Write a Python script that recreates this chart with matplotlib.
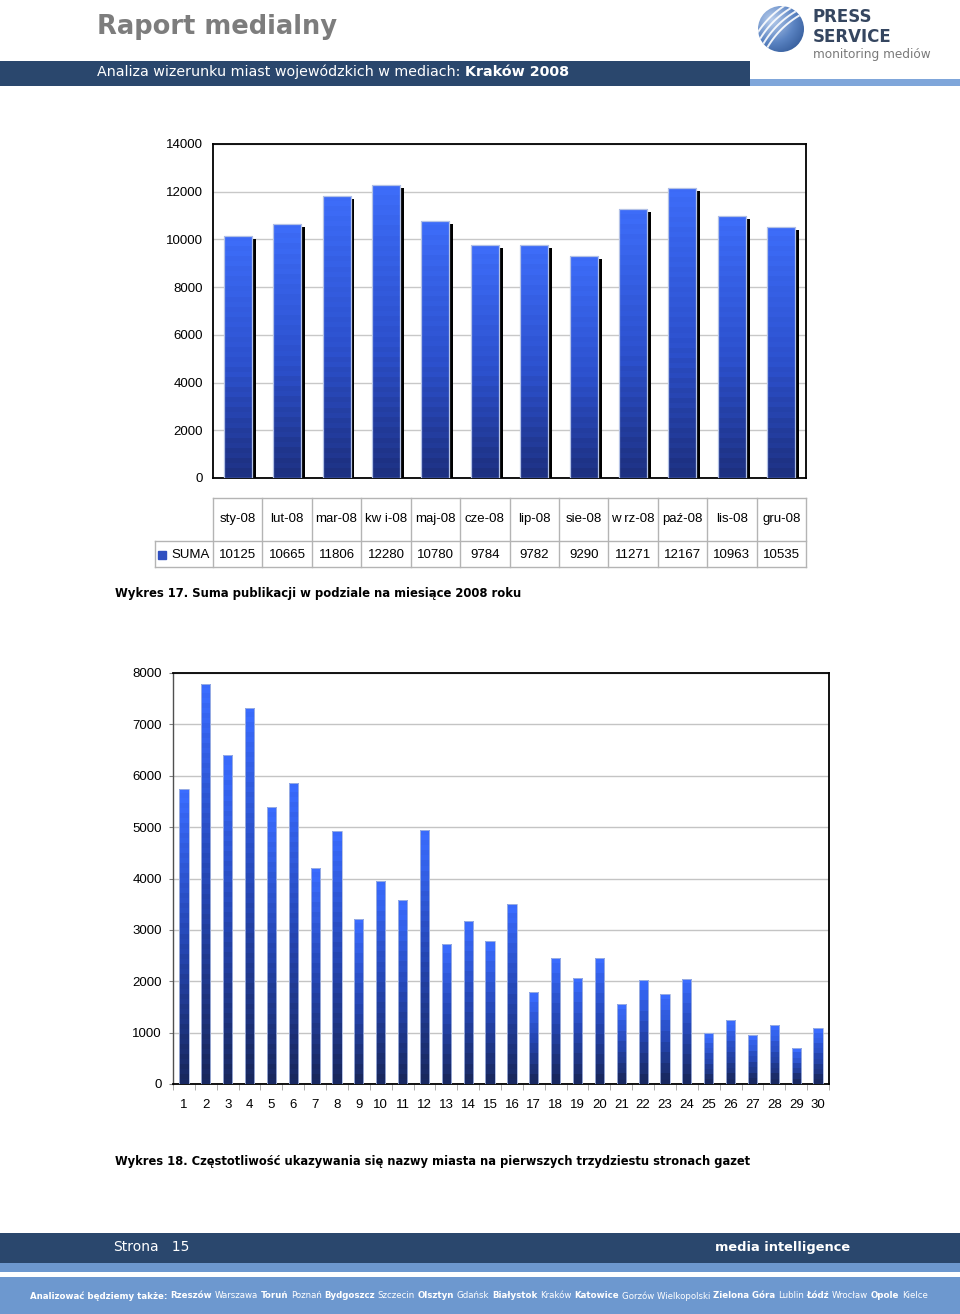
import numpy as np
import matplotlib
matplotlib.use("Agg")
import matplotlib.pyplot as plt
from matplotlib.colors import LinearSegmentedColormap
from matplotlib.patches import Rectangle, Circle

# ---------------- data ----------------
months = ['sty-08', 'lut-08', 'mar-08', 'kw i-08', 'maj-08', 'cze-08',
          'lip-08', 'sie-08', 'w rz-08', 'paź-08', 'lis-08', 'gru-08']
suma = [10125, 10665, 11806, 12280, 10780, 9784, 9782, 9290, 11271, 12167, 10963, 10535]
series_name = 'SUMA'

pages = list(range(1, 31))
counts = [5750, 7790, 6400, 7320, 5390, 5860, 4210, 4920, 3220, 3955,
          3580, 4940, 2730, 3180, 2775, 3505, 1790, 2445, 2070, 2445,
          1555, 2025, 1745, 2050, 985, 1245, 960, 1145, 705, 1085]

y1_ticks = list(range(0, 14001, 2000))
y2_ticks = list(range(0, 8001, 1000))

title = 'Raport medialny'
subtitle_normal = 'Analiza wizerunku miast wojewódzkich w mediach:'
subtitle_bold = 'Kraków 2008'
caption1 = 'Wykres 17. Suma publikacji w podziale na miesiące 2008 roku'
caption2 = 'Wykres 18. Częstotliwość ukazywania się nazwy miasta na pierwszych trzydziestu stronach gazet'
footer_cities = [('Analizować będziemy także:', 'bold'), ('Rzeszów', 'bold'), ('Warszawa', 'normal'),
                 ('Toruń', 'bold'), ('Poznań', 'normal'), ('Bydgoszcz', 'bold'), ('Szczecin', 'normal'),
                 ('Olsztyn', 'bold'), ('Gdańsk', 'normal'), ('Białystok', 'bold'), ('Kraków', 'normal'),
                 ('Katowice', 'bold'), ('Gorzów Wielkopolski', 'normal'), ('Zielona Góra', 'bold'),
                 ('Lublin', 'normal'), ('Łódź', 'bold'), ('Wrocław', 'normal'), ('Opole', 'bold'),
                 ('Kielce', 'normal')]

# ---------------- figure ----------------
W, H = 960, 1314
fig = plt.figure(figsize=(W / 100, H / 100), dpi=100)
fig.patch.set_facecolor('white')

bg = fig.add_axes([0, 0, 1, 1])
bg.set_xlim(0, W)
bg.set_ylim(H, 0)
bg.axis('off')


def rect(x0, y0, x1, y1, color):
    bg.add_patch(Rectangle((x0, y0), x1 - x0, y1 - y0, color=color, lw=0))


def draw_segs(x, y, segs, size, color, width=None, family='DejaVu Sans', va='center'):
    r = fig.canvas.get_renderer()

    def measure(sz):
        ws = []
        for s, wgt in segs:
            t = fig.text(0, 0, s, fontsize=sz, fontweight=wgt, family=family)
            ws.append(t.get_window_extent(r).width)
            t.remove()
        t1 = fig.text(0, 0, 'a a', fontsize=sz, family=family)
        t2 = fig.text(0, 0, 'aa', fontsize=sz, family=family)
        sp = t1.get_window_extent(r).width - t2.get_window_extent(r).width
        t1.remove(); t2.remove()
        return ws, sp

    ws, sp = measure(size)
    if width:
        total = sum(ws) + sp * (len(segs) - 1)
        size = size * width / total
        ws, sp = measure(size)
    cx = x
    for (s, wgt), w in zip(segs, ws):
        fig.text(cx / W, 1 - y / H, s, fontsize=size, fontweight=wgt, family=family,
                 color=color, ha='left', va=va)
        cx += w + sp


# header
draw_segs(97, 27, [(title, 'bold')], 20, '#7d7d7d', width=241)
rect(0, 61, 750, 86, '#2a476d')
rect(750, 79, 960, 86, '#7fa6da')
draw_segs(97, 72, [(subtitle_normal, 'normal'), (subtitle_bold, 'bold')], 11, 'white', width=473)

# logo
circ = Circle((781, 29), 23, facecolor='none', edgecolor='none')
bg.add_patch(circ)
yy, xx = np.mgrid[0:1:120j, 0:1:120j]
d = np.sqrt((xx - 0.3) ** 2 + (yy - 0.3) ** 2)
logo_cmap = LinearSegmentedColormap.from_list('logo', ['#b8cdec', '#5a83c2', '#244a88'])
im = bg.imshow(d, extent=[758, 804, 52, 6], cmap=logo_cmap, aspect='auto', zorder=2)
im.set_clip_path(circ)
for k in range(4):
    off = -16 + k * 5.5
    t = np.linspace(-30, 30, 50)
    px = 781 + off * 0.707 + t * 0.707 + 0.004 * t ** 2
    py = 29 + off * 0.707 - t * 0.707 + 0.004 * t ** 2
    ln, = bg.plot(px, py, color='white', lw=1.4, zorder=3, solid_capstyle='round', alpha=0.9)
    ln.set_clip_path(circ)
fig.text(813 / W, 1 - 17 / H, 'PRESS', fontsize=12, fontweight='heavy', color='#354660',
         ha='left', va='center', family='DejaVu Sans')
fig.text(813 / W, 1 - 36.5 / H, 'SERVICE', fontsize=12, fontweight='heavy', color='#354660',
         ha='left', va='center', family='DejaVu Sans')
draw_segs(813, 54.5, [('monitoring mediów', 'normal')], 7.5, '#7a7a7a', width=118)

# footer
rect(0, 1233, 960, 1263, '#2a476d')
rect(0, 1263, 960, 1272, '#6d98cf')
rect(0, 1277, 960, 1314, '#6d98cf')
draw_segs(113, 1247, [('Strona', 'normal'), ('  15', 'normal')], 10, 'white')
draw_segs(715, 1248, [('media intelligence', 'bold')], 11, 'white', width=135)
draw_segs(30, 1296, footer_cities, 6, 'white', width=900)


def grad_bars(ax, bars, cmap, px_per_unit):
    for b in bars:
        x0, h, w = b.get_x(), b.get_height(), b.get_width()
        n = max(3, int(h * px_per_unit / 5))
        g = np.linspace(0, 1, n)
        g = np.clip(g + 0.025 * (-1) ** np.arange(n), 0, 1).reshape(-1, 1)
        im = ax.imshow(g, extent=[x0, x0 + w, 0, h], origin='lower', aspect='auto',
                       cmap=cmap, vmin=0, vmax=1, zorder=3, interpolation='nearest')
        im.set_clip_path(b)


num_font = 'Liberation Sans'

# ---------------- chart 1 ----------------
ax1 = fig.add_axes([213 / W, 1 - 478 / H, (806 - 213) / W, (478 - 144) / H])
x1 = np.arange(len(months))
bw1 = 28 / 49.4
ax1.bar(x1 + 0.08, np.array(suma) - 126, width=bw1, color='black', zorder=2)
bars1 = ax1.bar(x1, suma, width=bw1, facecolor='none', edgecolor='#b4c2e6', lw=0.9, zorder=4)
cmap1 = LinearSegmentedColormap.from_list('c1', [(0, '#1d3080'), (0.45, '#2c50cc'), (1, '#3d6cf8')])
grad_bars(ax1, bars1, cmap1, 334 / 14000)
ax1.set_xlim(-0.5, len(months) - 0.5)
ax1.set_ylim(0, 14000)
ax1.set_yticks(y1_ticks)
ax1.set_yticklabels([str(v) for v in y1_ticks], fontsize=9.5, family=num_font)
ax1.set_xticks([])
ax1.tick_params(axis='y', length=0, pad=7)
ax1.yaxis.grid(True, color='#c8c8c8', lw=1)
ax1.set_axisbelow(True)
for s in ax1.spines.values():
    s.set_color('black'); s.set_linewidth(1.3)

# table under chart 1
axt = fig.add_axes([213 / W, 1 - 567 / H, (806 - 213) / W, (567 - 498) / H])
axt.set_xlim(-0.5, len(months) - 0.5)
axt.set_ylim(0, 1)
axt.axis('off')
lc = '#b4b4b4'
left = -0.5 - (213 - 155) / 49.42
ymid = (567 - 541) / 69
axt.plot([-0.5, len(months) - 0.5], [1, 1], color=lc, lw=1, clip_on=False)
axt.plot([left, len(months) - 0.5], [ymid, ymid], color=lc, lw=1, clip_on=False)
axt.plot([left, len(months) - 0.5], [0, 0], color=lc, lw=1, clip_on=False)
for i in range(len(months) + 1):
    axt.plot([i - 0.5, i - 0.5], [0, 1], color=lc, lw=1, clip_on=False)
axt.plot([left, left], [0, ymid], color=lc, lw=1, clip_on=False)
for i, (m, v) in enumerate(zip(months, suma)):
    axt.text(i, (567 - 519) / 69, m, ha='center', va='center', fontsize=9.5, family=num_font)
    axt.text(i, (567 - 555) / 69, str(v), ha='center', va='center', fontsize=9.5, family=num_font)
axt.plot([-0.5 - (213 - 161.5) / 49.42], [(567 - 555.5) / 69], marker='s', ms=5.5,
         color='#3050c0', clip_on=False)
axt.text(-0.5 - (213 - 171) / 49.42, (567 - 555) / 69, series_name, ha='left', va='center',
         fontsize=9.5, family=num_font)

draw_segs(115, 594, [(caption1, 'bold')], 10, 'black', width=405)

# ---------------- chart 2 ----------------
ax2 = fig.add_axes([173 / W, 1 - 1084 / H, (829 - 173) / W, (1084 - 673) / H])
bars2 = ax2.bar(pages, counts, width=0.42, facecolor='none', edgecolor='#a8b8e0', lw=0.6, zorder=4)
cmap2 = LinearSegmentedColormap.from_list('c2', [(0, '#19285e'), (0.5, '#2547b5'), (1, '#3a6cff')])
grad_bars(ax2, bars2, cmap2, 411 / 8000)
ax2.set_xlim(0.5, len(pages) + 0.5)
ax2.set_ylim(0, 8000)
ax2.set_yticks(y2_ticks)
ax2.set_yticklabels([str(v) for v in y2_ticks], fontsize=9.5, family=num_font)
ax2.set_xticks(pages)
ax2.set_xticklabels([str(p) for p in pages], fontsize=9.5, family=num_font)
ax2.set_xticks(np.arange(0.5, len(pages) + 1, 1), minor=True)
ax2.tick_params(axis='x', which='major', length=0, pad=10.5)
ax2.tick_params(axis='x', which='minor', length=4, color='#a0a0a0', direction='out')
ax2.tick_params(axis='y', length=3, color='#808080', pad=5)
ax2.yaxis.grid(True, color='#c4c4c4', lw=1)
ax2.set_axisbelow(True)
for k, s in ax2.spines.items():
    s.set_color('black'); s.set_linewidth(1.3)
ax2.spines['left'].set_color('#505050')
ax2.spines['left'].set_linewidth(1.0)

draw_segs(115, 1162, [(caption2, 'bold')], 10, 'black', width=636)

fig.savefig('out.png', dpi=100, facecolor='white')
